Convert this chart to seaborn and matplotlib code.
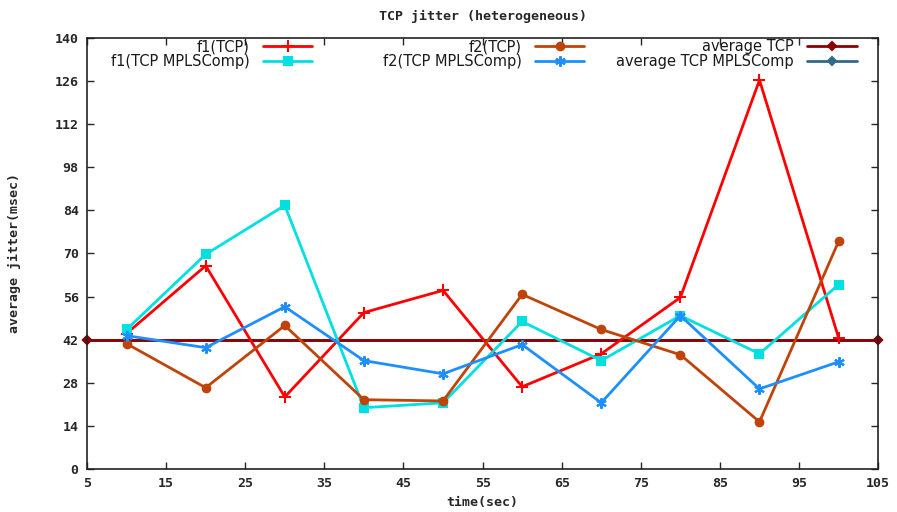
import matplotlib
matplotlib.use('Agg')
import matplotlib.pyplot as plt
import pandas as pd
import seaborn as sns

# valores
time_sec = [10, 20, 30, 40, 50, 60, 70, 80, 90, 100]
f1_tcp = [44.0, 66.0, 23.4, 50.8, 58.0, 26.7, 37.4, 55.7, 126.3, 42.6]
f2_tcp = [40.7, 26.4, 46.6, 22.5, 22.1, 56.7, 45.3, 37.1, 15.3, 73.9]
f1_mpls = [45.3, 69.7, 85.6, 19.9, 21.5, 47.9, 35.2, 49.8, 37.4, 59.9]
f2_mpls = [43.3, 39.4, 52.7, 35.2, 30.9, 40.4, 21.5, 49.8, 26.0, 34.8]
avg_x = [5, 105]
avg_tcp = [42, 42]
avg_mpls = [42, 42]

x_ticks = list(range(5, 106, 10))
y_ticks = list(range(0, 141, 14))

series = [
    ('f1(TCP)', time_sec, f1_tcp, '#ff0000', '+', 8),
    ('f1(TCP MPLSComp)', time_sec, f1_mpls, '#00e0e0', 's', 5.5),
    ('f2(TCP)', time_sec, f2_tcp, '#c0440a', 'o', 5.5),
    ('f2(TCP MPLSComp)', time_sec, f2_mpls, '#1e8fff', (6, 2, 0), 7.5),
    ('average TCP', avg_x, avg_tcp, '#8b0000', 'D', 4.5),
    ('average TCP MPLSComp', avg_x, avg_mpls, '#336a8c', 'D', 4.5),
]


def main():
    sns.set_style('ticks')
    plt.rcParams['font.family'] = ['DejaVu Sans']

    fig = plt.figure(figsize=(8.97, 5.12), dpi=100)
    ax = fig.add_axes([0.097, 0.084, 0.882, 0.842])

    for name, xs, ys, color, marker, ms in series:
        df = pd.DataFrame({'x': xs, 'y': ys})
        z = 2 if name.startswith('average') else 3
        sns.lineplot(data=df, x='x', y='y', ax=ax, color=color, marker=marker,
                     markersize=ms, markeredgecolor=color, markeredgewidth=1.5,
                     linewidth=2, label=name, zorder=z, clip_on=False)
    # a linha media TCP fica por cima da MPLS
    ax.lines[-2].set_zorder(2.5)

    ax.set_xlim(5, 105)
    ax.set_ylim(0, 140)
    ax.set_xticks(x_ticks)
    ax.set_yticks(y_ticks)
    ax.tick_params(direction='in', top=True, right=True, length=5, width=1, pad=6)
    for lab in ax.get_xticklabels() + ax.get_yticklabels():
        lab.set_family('DejaVu Sans Mono')
        lab.set_weight('bold')
        lab.set_fontsize(9.5)
    for sp in ax.spines.values():
        sp.set_linewidth(1.2)
        sp.set_color('#222222')

    ax.set_xlabel('time(sec)', family='DejaVu Sans Mono', weight='bold', fontsize=9.5, labelpad=4)
    ax.set_ylabel('average jitter(msec)', family='DejaVu Sans Mono', weight='bold', fontsize=9.5, labelpad=24)
    ax.set_title('TCP jitter (heterogeneous)', family='DejaVu Sans Mono', weight='bold', fontsize=9.5, pad=13)

    # legenda em tres colunas de largura igual, como no gnuplot
    h, l = ax.get_legend_handles_labels()
    ax.get_legend().remove()
    right_edges = [0.294, 0.638, 0.982]
    for i, xr in enumerate(right_edges):
        leg = ax.legend(h[2 * i:2 * i + 2], l[2 * i:2 * i + 2], loc='upper right',
                        bbox_to_anchor=(xr, 1.014), frameon=False, markerfirst=False,
                        fontsize=10.5, handlelength=3.4, handletextpad=0.9,
                        labelspacing=0.0, borderaxespad=0.1, alignment='right',
                        labelcolor='#1a1a1a')
        if i < len(right_edges) - 1:
            ax.add_artist(leg)

    fig.savefig('out.png', dpi=100)
    plt.close(fig)


if __name__ == '__main__':
    main()
